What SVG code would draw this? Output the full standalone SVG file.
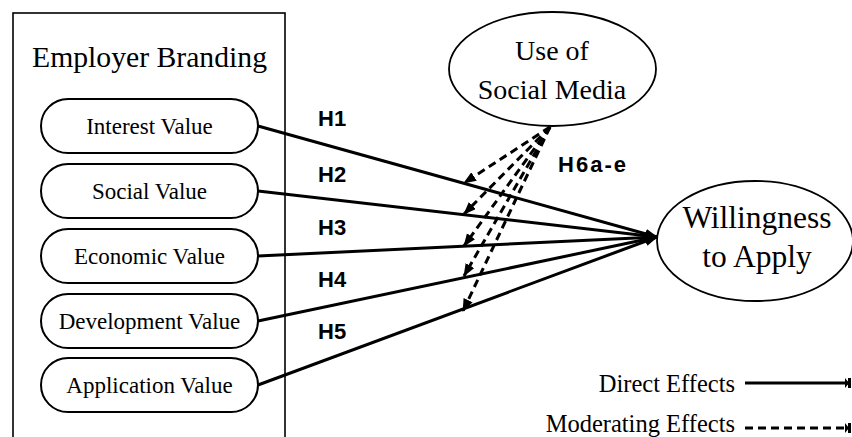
<svg xmlns="http://www.w3.org/2000/svg" width="852" height="437" viewBox="0 0 852 437">
<style>
.serif{font-family:"Liberation Serif","Times New Roman",serif;fill:#000}
.lbl{font-family:"Liberation Sans",Arial,sans-serif;font-weight:bold;font-size:22px;fill:#000}
.pill{fill:#fff;stroke:#000;stroke-width:2}
.pt{font-size:23px}
.ell{fill:#fff;stroke:#000;stroke-width:1.8}
.direct{stroke:#000;stroke-width:3;fill:none;marker-end:url(#ah)}
.mod{stroke:#000;stroke-width:3;fill:none;stroke-dasharray:8 5;marker-end:url(#ah)}
</style>
<defs>
<marker id="ah" markerUnits="userSpaceOnUse" markerWidth="14" markerHeight="12" refX="12" refY="5" orient="auto">
<path d="M0,0 L13,5 L0,10 z" fill="#000"/>
</marker>
<marker id="tee" markerUnits="userSpaceOnUse" markerWidth="8" markerHeight="12" refX="3" refY="6" orient="auto">
<path d="M0,1 L4,6 L0,11 z M3,1 h3 v10 h-3 z" fill="#000"/>
</marker>
</defs>
<rect width="852" height="437" fill="#fff"/>

<g id="employer-branding">
<rect x="13" y="13" width="272" height="440" fill="none" stroke="#000" stroke-width="1.6"/>
<text class="serif" x="149.5" y="67" font-size="28.5" textLength="235" lengthAdjust="spacingAndGlyphs" text-anchor="middle">Employer Branding</text>
</g>
<g id="interest-value">
<rect class="pill" x="41" y="99" width="217" height="54" rx="27" ry="27"/>
<text class="serif pt" x="149.5" y="134" text-anchor="middle">Interest Value</text>
</g>
<g id="social-value">
<rect class="pill" x="41" y="164" width="217" height="54" rx="27" ry="27"/>
<text class="serif pt" x="149.5" y="199" text-anchor="middle">Social Value</text>
</g>
<g id="economic-value">
<rect class="pill" x="41" y="229" width="217" height="54" rx="27" ry="27"/>
<text class="serif pt" x="149.5" y="264" text-anchor="middle">Economic Value</text>
</g>
<g id="development-value">
<rect class="pill" x="41" y="294" width="217" height="54" rx="27" ry="27"/>
<text class="serif pt" x="149.5" y="329" text-anchor="middle">Development Value</text>
</g>
<g id="application-value">
<rect class="pill" x="41" y="358" width="217" height="54" rx="27" ry="27"/>
<text class="serif pt" x="149.5" y="393" text-anchor="middle">Application Value</text>
</g>

<g id="use-of-social-media">
<ellipse class="ell" cx="552.5" cy="69" rx="103.5" ry="57"/>
<text class="serif" x="552" y="60" font-size="28" text-anchor="middle">Use of</text>
<text class="serif" x="552" y="99" font-size="28" text-anchor="middle">Social Media</text>
</g>

<g id="willingness-to-apply">
<ellipse class="ell" cx="755" cy="241" rx="98" ry="60"/>
<text class="serif" x="757" y="228" font-size="31.5" text-anchor="middle">Willingness</text>
<text class="serif" x="757" y="267" font-size="31.5" text-anchor="middle">to Apply</text>
</g>

<g id="connectors">
<line class="direct" x1="258" y1="126" x2="657" y2="237"/>
<line class="direct" x1="258" y1="191" x2="657" y2="237"/>
<line class="direct" x1="258" y1="256" x2="657" y2="237"/>
<line class="direct" x1="258" y1="321" x2="657" y2="237"/>
<line class="direct" x1="258" y1="385" x2="657" y2="237"/>
<line class="mod" x1="550" y1="127" x2="464" y2="183"/>
<line class="mod" x1="550" y1="127" x2="464" y2="214"/>
<line class="mod" x1="550" y1="127" x2="464" y2="246"/>
<line class="mod" x1="550" y1="127" x2="464" y2="276"/>
<line class="mod" x1="550" y1="127" x2="463" y2="311"/>
</g>

<g id="labels">
<text class="lbl" x="318" y="126">H1</text>
<text class="lbl" x="318" y="182">H2</text>
<text class="lbl" x="318" y="235">H3</text>
<text class="lbl" x="318" y="287">H4</text>
<text class="lbl" x="318" y="339">H5</text>
<text class="lbl" x="558" y="172" textLength="68" lengthAdjust="spacing">H6a-e</text>
</g>

<g id="legend">
<text class="serif" x="735" y="392" font-size="24.5" text-anchor="end">Direct Effects</text>
<line x1="745" y1="383" x2="848" y2="383" stroke="#000" stroke-width="3" marker-end="url(#tee)"/>
<text class="serif" x="735" y="432" font-size="24.5" text-anchor="end">Moderating Effects</text>
<line x1="745" y1="428" x2="848" y2="428" stroke="#000" stroke-width="3" stroke-dasharray="8 5" marker-end="url(#tee)"/>
</g>
</svg>
